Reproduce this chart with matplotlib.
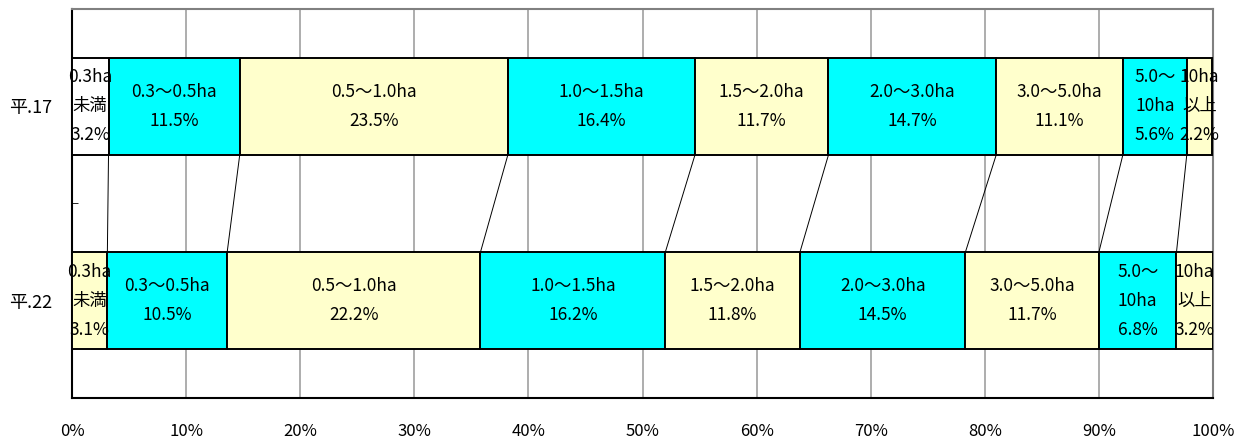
import numpy as np
import matplotlib
matplotlib.use("Agg")
from matplotlib import pyplot as plt

plt.rcParams['font.family'] = ['Noto Sans CJK JP', 'DejaVu Sans']

years = ['平.17', '平.22']
class_labels = [
    '0.3ha\n未満', '0.3〜0.5ha', '0.5〜1.0ha', '1.0〜1.5ha', '1.5〜2.0ha',
    '2.0〜3.0ha', '3.0〜5.0ha', '5.0〜\n10ha', '10ha\n以上',
]
share_h17 = [3.2, 11.5, 23.5, 16.4, 11.7, 14.7, 11.1, 5.6, 2.2]
share_h22 = [3.1, 10.5, 22.2, 16.2, 11.8, 14.5, 11.7, 6.8, 3.2]
x_ticks = [0, 10, 20, 30, 40, 50, 60, 70, 80, 90, 100]

cyan = '#00FFFF'
cream = '#FFFFCC'
colors_h17 = ['white'] + [cyan if i % 2 == 1 else cream for i in range(1, 9)]
colors_h22 = [cream] + [cyan if i % 2 == 1 else cream for i in range(1, 9)]

fig = plt.figure(figsize=(12.47, 4.41), dpi=100)
ax = fig.add_axes([72 / 1247, 43 / 441, 1141 / 1247, 389 / 441])

bar_h = 0.5
ypos = [0, 1]
rows = [(share_h17, colors_h17), (share_h22, colors_h22)]
for y, (vals, cols) in zip(ypos, rows):
    left = 0.0
    for v, c, lab in zip(vals, cols, class_labels):
        ax.barh(y, v, left=left, height=bar_h, color=c,
                edgecolor='black', linewidth=1.4, zorder=3)
        ax.text(left + v / 2, y, '{}\n{:.1f}%'.format(lab, v),
                ha='center', va='center', fontsize=12.5,
                linespacing=1.8, zorder=4)
        left += v

# series lines between cumulative boundaries
cum17 = np.cumsum(share_h17)[:-1]
cum22 = np.cumsum(share_h22)[:-1]
for a, b in zip(cum17, cum22):
    ax.plot([a, b], [ypos[0] + bar_h / 2, ypos[1] - bar_h / 2],
            color='black', linewidth=0.7, zorder=2)

ax.set_xlim(0, 100)
ax.set_ylim(1.5, -0.5)
ax.set_xticks(x_ticks)
ax.set_xticklabels(['{}%'.format(t) for t in x_ticks], fontsize=12)
ax.set_yticks(ypos)
ax.set_yticklabels(years, fontsize=13)
ax.set_yticks([0.5], minor=True)
ax.tick_params(axis='x', length=0, pad=18)
ax.tick_params(axis='y', which='major', length=0, pad=14)
ax.tick_params(axis='y', which='minor', length=4, direction='in')
ax.xaxis.grid(True, color='#a0a0a0', linewidth=1.2, zorder=0)
ax.set_axisbelow(True)

for side in ['top', 'right']:
    ax.spines[side].set_color('#808080')
    ax.spines[side].set_linewidth(1.5)
for side in ['left', 'bottom']:
    ax.spines[side].set_color('black')
    ax.spines[side].set_linewidth(1.5)

fig.savefig('out.png', dpi=100)
